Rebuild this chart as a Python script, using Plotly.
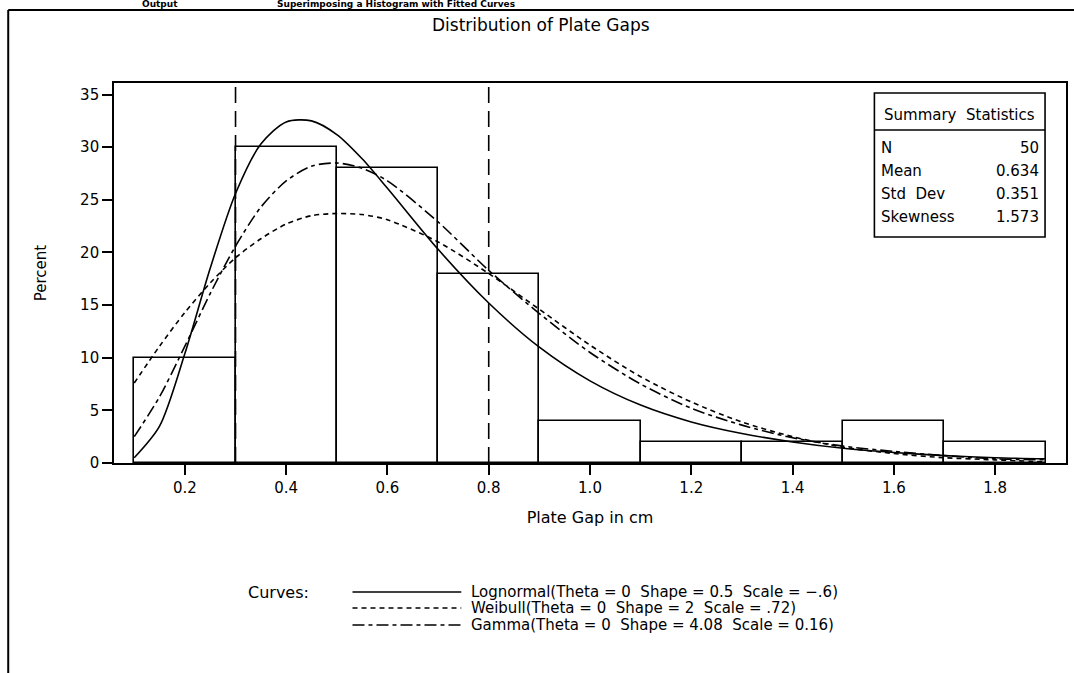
import plotly.graph_objects as go

# ---------------- data ----------------
bin_mid = [0.2, 0.4, 0.6, 0.8, 1.0, 1.2, 1.4, 1.6, 1.8]
bin_pct = [10, 30, 28, 18, 4, 2, 2, 4, 2]
bin_width = 0.2

curve_x = [0.10, 0.15, 0.20, 0.25, 0.30, 0.35, 0.40, 0.45, 0.50, 0.55, 0.60,
           0.70, 0.80, 0.90, 1.00, 1.10, 1.20, 1.30, 1.40, 1.50, 1.60, 1.70,
           1.80, 1.90]
lognormal_pct = [0.5, 3.5, 10.4, 18.5, 25.6, 30.3, 32.4, 32.5, 31.2, 28.9, 26.1,
                 20.3, 15.2, 11.0, 7.8, 5.5, 3.9, 2.8, 2.0, 1.4, 1.0, 0.7, 0.5, 0.4]
weibull_pct = [7.6, 11.1, 14.3, 17.1, 19.5, 21.3, 22.7, 23.5, 23.7, 23.6, 23.1,
               21.0, 18.0, 14.6, 11.2, 8.2, 5.8, 3.9, 2.5, 1.5, 0.9, 0.5, 0.3, 0.1]
gamma_pct = [2.5, 6.3, 11.1, 16.1, 20.6, 24.3, 26.8, 28.2, 28.5, 28.0, 26.8,
             22.9, 18.3, 14.2, 10.5, 7.5, 5.2, 3.6, 2.4, 1.6, 1.1, 0.7, 0.4, 0.3]

curve_names = ["Lognormal(Theta\u00a0=\u00a00\u00a0\u00a0Shape\u00a0=\u00a00.5\u00a0\u00a0Scale\u00a0=\u00a0\u2212.6)",
               "Weibull(Theta\u00a0=\u00a00\u00a0\u00a0Shape\u00a0=\u00a02\u00a0\u00a0Scale\u00a0=\u00a0.72)",
               "Gamma(Theta\u00a0=\u00a00\u00a0\u00a0Shape\u00a0=\u00a04.08\u00a0\u00a0Scale\u00a0=\u00a00.16)"]
curve_dashes = ["solid", "5px,4px", "12px,4px,4px,4px"]

ref_lines = [0.3, 0.8]

stat_labels = ["N", "Mean", "Std\u00a0\u00a0Dev", "Skewness"]
stat_values = ["50", "0.634", "0.351", "1.573"]

x_ticks = [0.2, 0.4, 0.6, 0.8, 1.0, 1.2, 1.4, 1.6, 1.8]
y_ticks = [0, 5, 10, 15, 20, 25, 30, 35]

# ---------------- layout helpers ----------------
W, H = 1074, 673
L, R, T, B = 114, 1068, 83, 463
FONT = "DejaVu Sans"


def px(x):
    return (x - L) / (R - L)


def py(y):
    return (B - y) / (B - T)


fig = go.Figure()

fig.add_trace(go.Bar(
    x=bin_mid, y=bin_pct, width=bin_width,
    marker=dict(color="rgba(0,0,0,0)", line=dict(color="black", width=1.6)),
    showlegend=False, hoverinfo="x+y"))

for ys, name, dash in zip([lognormal_pct, weibull_pct, gamma_pct], curve_names, curve_dashes):
    fig.add_trace(go.Scatter(
        x=curve_x, y=ys, mode="lines", name=name,
        line=dict(color="black", width=1.6, dash=dash, shape="spline", smoothing=0.8),
        showlegend=False))

shapes = []
for rx in ref_lines:
    shapes.append(dict(type="line", xref="x", yref="paper", x0=rx, x1=rx, y0=0, y1=1,
                       line=dict(color="black", width=1.6, dash="16px,8px")))

# outer output frame
shapes.append(dict(type="line", xref="paper", yref="paper",
                   x0=px(8), x1=px(1080), y0=py(10), y1=py(10),
                   line=dict(color="black", width=2)))
shapes.append(dict(type="line", xref="paper", yref="paper",
                   x0=px(8), x1=px(8), y0=py(10), y1=py(690),
                   line=dict(color="black", width=2)))

# summary statistics box
tb_l, tb_r, tb_t, tb_b, tb_sep = 876, 1047, 93, 237, 130
shapes.append(dict(type="rect", xref="paper", yref="paper",
                   x0=px(tb_l), x1=px(tb_r), y0=py(tb_t), y1=py(tb_b),
                   line=dict(color="black", width=1.6), fillcolor="white", layer="above"))
shapes.append(dict(type="line", xref="paper", yref="paper",
                   x0=px(tb_l), x1=px(tb_r), y0=py(tb_sep), y1=py(tb_sep),
                   line=dict(color="black", width=1.6)))

annotations = []
annotations.append(dict(text="Summary\u00a0\u00a0Statistics", xref="paper", yref="paper",
                        x=px((tb_l + tb_r) / 2), y=py(115), xanchor="center", yanchor="middle",
                        showarrow=False, font=dict(family=FONT, size=15, color="black")))
row_y = [148, 171, 194, 217]
for lab, val, ry in zip(stat_labels, stat_values, row_y):
    annotations.append(dict(text=lab, xref="paper", yref="paper", x=px(881), y=py(ry),
                            xanchor="left", yanchor="middle", showarrow=False,
                            font=dict(family=FONT, size=15, color="black")))
    annotations.append(dict(text=val, xref="paper", yref="paper", x=px(1043), y=py(ry),
                            xanchor="right", yanchor="middle", showarrow=False,
                            font=dict(family=FONT, size=15, color="black")))

# legend block
leg_y = [592, 608, 625]
annotations.append(dict(text="Curves:", xref="paper", yref="paper", x=px(246), y=py(592),
                        xanchor="left", yanchor="middle", showarrow=False,
                        font=dict(family=FONT, size=16, color="black")))
for name, dash, ly in zip(curve_names, curve_dashes, leg_y):
    shapes.append(dict(type="line", xref="paper", yref="paper",
                       x0=px(353), x1=px(462), y0=py(ly), y1=py(ly),
                       line=dict(color="black", width=1.6, dash=dash)))
    annotations.append(dict(text=name, xref="paper", yref="paper", x=px(470), y=py(ly),
                            xanchor="left", yanchor="middle", showarrow=False,
                            font=dict(family=FONT, size=15, color="black")))

# chart title
annotations.append(dict(text="Distribution of Plate Gaps", xref="paper", yref="paper",
                        x=px(542), y=py(25), xanchor="center", yanchor="middle", showarrow=False,
                        font=dict(family=FONT, size=17, color="black")))

# output caption at the very top of the page (mostly cropped in the original)
annotations.append(dict(text="<b>Output</b>", xref="paper", yref="paper",
                        x=px(140), y=py(4), xanchor="left", yanchor="middle", showarrow=False,
                        font=dict(family=FONT, size=9, color="black")))
annotations.append(dict(text="<b>Superimposing a Histogram with Fitted Curves</b>", xref="paper",
                        yref="paper", x=px(275), y=py(4), xanchor="left", yanchor="middle",
                        showarrow=False, font=dict(family=FONT, size=9, color="black")))

fig.update_layout(
    width=W, height=H,
    margin=dict(l=L, r=W - R, t=T, b=H - B, pad=0),
    paper_bgcolor="white", plot_bgcolor="white",
    font=dict(family=FONT, size=15, color="black"),
    bargap=0,
    shapes=shapes, annotations=annotations,
    xaxis=dict(range=[0.06, 1.94], tickvals=x_ticks, tickformat=".1f",
               ticks="outside", ticklen=10, tickwidth=1.6, tickcolor="black",
               showline=True, linecolor="black", linewidth=1.6, mirror=True,
               showgrid=False, zeroline=False,
               tickfont=dict(family=FONT, size=15),
               title=dict(text="Plate Gap in cm", font=dict(family=FONT, size=16), standoff=16)),
    yaxis=dict(range=[0, 36.1], tickvals=y_ticks,
               ticks="outside", ticklen=10, tickwidth=1.6, tickcolor="black",
               showline=True, linecolor="black", linewidth=1.6, mirror=True,
               showgrid=False, zeroline=False,
               tickfont=dict(family=FONT, size=15),
               title=dict(text="Percent", font=dict(family=FONT, size=15), standoff=30)),
)

fig.write_html("out.html", config={"displayModeBar": False},
               post_script="document.body.style.margin='0';")
